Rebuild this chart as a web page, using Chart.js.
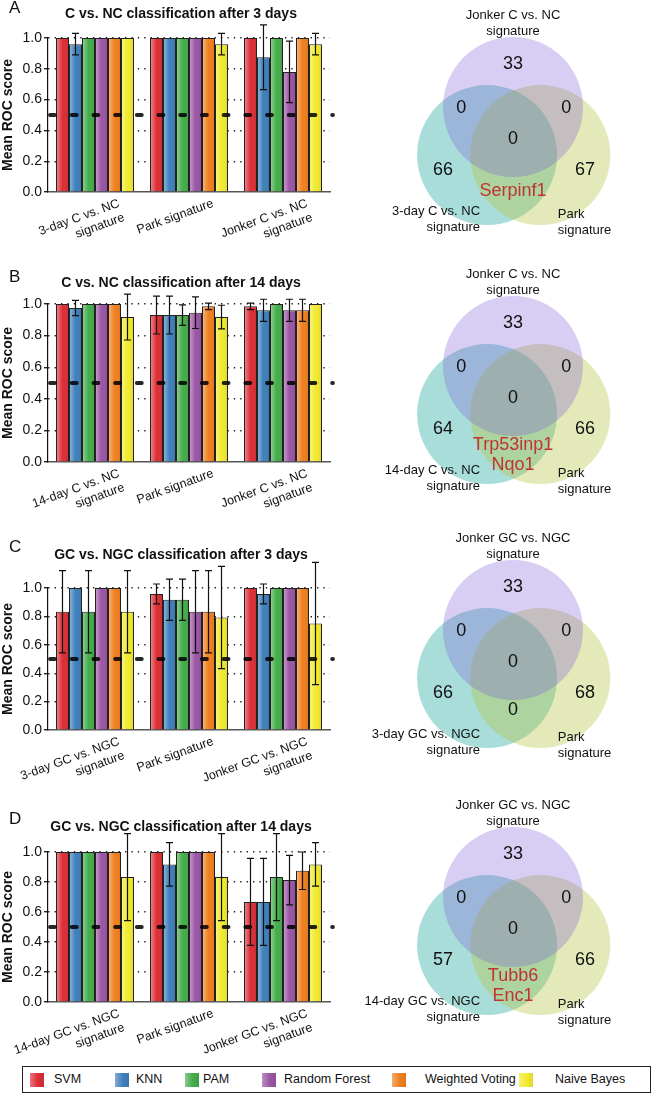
<!DOCTYPE html>
<html lang="en">
<head>
<meta charset="UTF-8">
<title>Classifier ROC scores and signature overlap</title>
<script src="https://cdn.jsdelivr.net/npm/chart.js"></script>
<style>
    body {
        margin: 0;
        background: #fff;
        font-family: "Liberation Sans", Arial, sans-serif;
    }
    .page {
        position: relative;
        width: 665px;
        height: 1097px;
        overflow: hidden;
    }
    .page canvas {
        position: absolute;
    }
    .legend {
        position: absolute;
        left: 22px;
        top: 1066px;
        width: 629px;
        height: 27px;
        border: 1px solid #222;
        box-sizing: border-box;
    }
    .legend .sw {
        position: absolute;
        top: 6px;
        width: 14px;
        height: 14px;
        background-image: linear-gradient(90deg, rgba(255,255,255,0.35), rgba(255,255,255,0) 55%, rgba(0,0,0,0.08));
    }
    .legend .tx {
        position: absolute;
        top: 5px;
        font-size: 12.5px;
        color: #111;
    }
</style>
</head>
<body>
<div class="page">
    <canvas id="barA" width="340" height="247" style="left:0;top:0"></canvas>
    <canvas id="barB" width="340" height="265" style="left:0;top:250px"></canvas>
    <canvas id="barC" width="340" height="268" style="left:0;top:515px"></canvas>
    <canvas id="barD" width="340" height="272" style="left:0;top:785px"></canvas>
    <canvas id="vennA" width="325" height="255" style="left:340px;top:0"></canvas>
    <canvas id="vennB" width="325" height="255" style="left:340px;top:259px"></canvas>
    <canvas id="vennC" width="325" height="255" style="left:340px;top:523px"></canvas>
    <canvas id="vennD" width="325" height="255" style="left:340px;top:790px"></canvas>
    <div class="legend" id="legend"></div>
</div>

<script>
    // classifiers (one bar per classifier in every group)
    const classifiers = ['SVM', 'KNN', 'PAM', 'Random Forest', 'Weighted Voting', 'Naive Bayes'];
    const classifierColors = ['#dc2f36', '#3f80bb', '#45ad4b', '#9b55a5', '#f08020', '#f1ea2e'];

    // A: C vs. NC after 3 days -- rows = classifiers, columns = signatures
    const aLabels = [['3-day C vs. NC', 'signature'], 'Park signature', ['Jonker C vs. NC', 'signature']];
    const aMean = [
        [1.00, 1.00, 1.00],
        [0.96, 1.00, 0.875],
        [1.00, 1.00, 1.00],
        [1.00, 1.00, 0.78],
        [1.00, 1.00, 1.00],
        [1.00, 0.96, 0.96]
    ];
    const aErr = [
        [0, 0, 0],
        [0.07, 0, 0.21],
        [0, 0, 0],
        [0, 0, 0.20],
        [0, 0, 0],
        [0, 0.07, 0.07]
    ];

    // B: C vs. NC after 14 days
    const bLabels = [['14-day C vs. NC', 'signature'], 'Park signature', ['Jonker C vs. NC', 'signature']];
    const bMean = [
        [1.00, 0.93, 0.985],
        [0.975, 0.93, 0.96],
        [1.00, 0.93, 1.00],
        [1.00, 0.945, 0.96],
        [1.00, 0.985, 0.96],
        [0.917, 0.917, 1.00]
    ];
    const bErr = [
        [0, 0.12, 0.02],
        [0.048, 0.12, 0.07],
        [0, 0.065, 0],
        [0, 0.10, 0.07],
        [0, 0.02, 0.07],
        [0.145, 0.075, 0]
    ];

    // C: GC vs. NGC after 3 days
    const cLabels = [['3-day GC vs. NGC', 'signature'], 'Park signature', ['Jonker GC vs. NGC', 'signature']];
    const cMean = [
        [0.833, 0.958, 1.00],
        [1.00, 0.917, 0.958],
        [0.833, 0.917, 1.00],
        [1.00, 0.833, 1.00],
        [1.00, 0.833, 1.00],
        [0.833, 0.792, 0.75]
    ];
    const cErr = [
        [0.29, 0.07, 0],
        [0, 0.145, 0.07],
        [0.29, 0.145, 0],
        [0, 0.29, 0],
        [0, 0.29, 0],
        [0.29, 0.36, 0.43]
    ];

    // D: GC vs. NGC after 14 days
    const dLabels = [['14-day GC vs. NGC', 'signature'], 'Park signature', ['Jonker GC vs. NGC', 'signature']];
    const dMean = [
        [1.00, 1.00, 0.667],
        [1.00, 0.917, 0.667],
        [1.00, 1.00, 0.833],
        [1.00, 1.00, 0.813],
        [1.00, 1.00, 0.875],
        [0.833, 0.833, 0.917]
    ];
    const dErr = [
        [0, 0, 0.29],
        [0, 0.145, 0.29],
        [0, 0, 0.29],
        [0, 0, 0.165],
        [0, 0, 0.125],
        [0.29, 0.29, 0.145]
    ];

    // Venn counts: [Jonker only, Jonker+own, Jonker+Park, all three, own only, Park only]
    const vennACounts = [33, 0, 0, 0, 66, 67];
    const vennBCounts = [33, 0, 0, 0, 64, 66];
    const vennCCounts = [33, 0, 0, 0, 66, 68];
    const vennDCounts = [33, 0, 0, 0, 57, 66];
    // genes shared by own and Park signature only (none -> 0)
    const vennAShared = ['Serpinf1'];
    const vennBShared = ['Trp53inp1', 'Nqo1'];
    const vennCShared = [];
    const vennDShared = ['Tubb6', 'Enc1'];
    // set names: Jonker, own, Park
    const vennANames = [['Jonker C vs. NC', 'signature'], ['3-day C vs. NC', 'signature'], ['Park', 'signature']];
    const vennBNames = [['Jonker C vs. NC', 'signature'], ['14-day C vs. NC', 'signature'], ['Park', 'signature']];
    const vennCNames = [['Jonker GC vs. NGC', 'signature'], ['3-day GC vs. NGC', 'signature'], ['Park', 'signature']];
    const vennDNames = [['Jonker GC vs. NGC', 'signature'], ['14-day GC vs. NGC', 'signature'], ['Park', 'signature']];

    const FONT = '"Liberation Sans", Arial, sans-serif';
    Chart.defaults.font.family = FONT;

    // bars: shading, 0.5 chance line, error bars, panel letter + title
    const barExtras = {
        id: 'barExtras',
        afterDatasetsDraw(chart, args, opts) {
            const { ctx, chartArea, scales: { y } } = chart;
            chart.data.datasets.forEach((ds, i) => {
                chart.getDatasetMeta(i).data.forEach(bar => {
                    const l = bar.x - bar.width / 2 + 1;
                    const w = bar.width - 2;
                    const g = ctx.createLinearGradient(l, 0, l + w, 0);
                    g.addColorStop(0, 'rgba(255,255,255,0.38)');
                    g.addColorStop(0.5, 'rgba(255,255,255,0)');
                    g.addColorStop(1, 'rgba(0,0,0,0.07)');
                    ctx.fillStyle = g;
                    ctx.fillRect(l, bar.y + 1, w, bar.base - bar.y - 1);
                });
            });

            const y5 = y.getPixelForValue(0.5);
            ctx.save();
            ctx.strokeStyle = 'rgba(0,0,0,0.85)';
            ctx.lineWidth = 3.8;
            ctx.lineCap = 'round';
            ctx.setLineDash([5, 16.7]);
            ctx.beginPath();
            ctx.moveTo(chartArea.left + 2, y5);
            ctx.lineTo(chartArea.right + 3, y5);
            ctx.stroke();
            ctx.restore();

            ctx.save();
            ctx.strokeStyle = '#111';
            ctx.lineWidth = 1.2;
            chart.data.datasets.forEach((ds, i) => {
                chart.getDatasetMeta(i).data.forEach((bar, j) => {
                    const e = ds.errors[j];
                    if (!e) return;
                    const top = y.getPixelForValue(ds.data[j] + e);
                    const bot = y.getPixelForValue(ds.data[j] - e);
                    ctx.beginPath();
                    ctx.moveTo(bar.x, top); ctx.lineTo(bar.x, bot);
                    ctx.moveTo(bar.x - 3.5, top); ctx.lineTo(bar.x + 3.5, top);
                    ctx.moveTo(bar.x - 3.5, bot); ctx.lineTo(bar.x + 3.5, bot);
                    ctx.stroke();
                });
            });
            ctx.restore();

            ctx.save();
            ctx.fillStyle = '#111';
            ctx.textBaseline = 'middle';
            ctx.textAlign = 'left';
            ctx.font = '17px ' + FONT;
            ctx.fillText(opts.letter, 9, opts.letterY);
            ctx.textAlign = 'center';
            ctx.font = 'bold 14px ' + FONT;
            ctx.fillText(opts.title, (chartArea.left + chartArea.right) / 2 - 8, opts.titleY);
            ctx.restore();
        }
    };

    function barChart(id, labels, means, errs, box) {
        return new Chart(document.getElementById(id), {
            type: 'bar',
            data: {
                labels: labels,
                datasets: classifiers.map((name, i) => ({
                    label: name,
                    data: means[i],
                    errors: errs[i],
                    backgroundColor: classifierColors[i],
                    borderColor: '#222',
                    borderWidth: 1,
                    categoryPercentage: 0.83,
                    barPercentage: 1.0
                }))
            },
            options: {
                responsive: false,
                animation: false,
                events: [],
                layout: { padding: { top: box.plotTop, right: 10, left: 0, bottom: 0 } },
                plugins: {
                    legend: { display: false },
                    tooltip: { enabled: false },
                    barExtras: box
                },
                scales: {
                    x: {
                        grid: { display: false, drawTicks: false },
                        border: { color: '#555', width: 1.5 },
                        ticks: {
                            color: '#111',
                            font: { size: 12.5 },
                            minRotation: 20,
                            maxRotation: 20,
                            autoSkip: false,
                            labelOffset: 24,
                            padding: 4
                        },
                        afterFit: s => {
                            s.height = box.height - box.plotBottom;
                            // rotated labels may run off the edge, as in the figure
                            s.paddingLeft = 0;
                            s.paddingRight = 0;
                        }
                    },
                    y: {
                        min: 0,
                        max: 1,
                        ticks: {
                            stepSize: 0.2,
                            color: '#111',
                            font: { size: 14 },
                            padding: 2,
                            callback: v => v.toFixed(1)
                        },
                        grid: {
                            color: c => (c.tick && c.tick.value === 0) ? 'rgba(0,0,0,0)' : '#222',
                            lineWidth: 1.4,
                            tickLength: 4,
                            tickColor: '#222'
                        },
                        border: { color: '#111', width: 1.2, dash: [1.4, 5] },
                        title: {
                            display: true,
                            text: 'Mean ROC score',
                            color: '#111',
                            font: { size: 14, weight: 'bold' },
                            padding: 0
                        },
                        afterFit: s => { s.width = 48; }
                    }
                }
            },
            plugins: [barExtras]
        });
    }

    barChart('barA', aLabels, aMean, aErr, { letter: 'A', title: 'C vs. NC classification after 3 days', letterY: 8, titleY: 14, height: 247, plotTop: 38, plotBottom: 192 });
    barChart('barB', bLabels, bMean, bErr, { letter: 'B', title: 'C vs. NC classification after 14 days', letterY: 27, titleY: 33, height: 265, plotTop: 54, plotBottom: 212 });
    barChart('barC', cLabels, cMean, cErr, { letter: 'C', title: 'GC vs. NGC classification after 3 days', letterY: 32, titleY: 40, height: 268, plotTop: 73, plotBottom: 215 });
    barChart('barD', dLabels, dMean, dErr, { letter: 'D', title: 'GC vs. NGC classification after 14 days', letterY: 34, titleY: 42, height: 272, plotTop: 67, plotBottom: 217 });

    // Venn layout in circle-radius units (centroid at 0,0)
    const vennCentres = { jonker: [0, 0.457], park: [0.39, -0.229], own: [-0.37, -0.229] };
    const vennColors = { jonker: 'rgba(120,85,215,0.29)', park: 'rgba(180,195,60,0.36)', own: 'rgba(40,170,160,0.40)' };
    const vennDrawOrder = ['jonker', 'park', 'own']; // first one ends up on top

    const vennText = {
        id: 'vennText',
        afterDatasetsDraw(chart, args, o) {
            const { ctx, scales: { x, y } } = chart;
            const put = (txt, ux, uy, align, size, color) => {
                ctx.font = size + 'px ' + FONT;
                ctx.fillStyle = color;
                ctx.textAlign = align;
                ctx.textBaseline = 'middle';
                ctx.fillText(String(txt), x.getPixelForValue(ux), y.getPixelForValue(uy));
            };
            ctx.save();
            const [jn, own, park] = o.names;
            put(jn[0], 0, 1.76, 'center', 13, '#111');
            put(jn[1], 0, 1.53, 'center', 13, '#111');
            put(own[0], -0.47, -1.03, 'right', 13, '#111');
            put(own[1], -0.47, -1.26, 'right', 13, '#111');
            put(park[0], 0.64, -1.08, 'left', 13, '#111');
            put(park[1], 0.64, -1.31, 'left', 13, '#111');

            const spots = [[0, 1.07], [-0.74, 0.44], [0.76, 0.44], [0, 0], [-1.0, -0.44], [1.03, -0.44]];
            o.counts.forEach((n, i) => put(n, spots[i][0], spots[i][1], 'center', 18, '#111'));
            if (o.shared.length === 0) {
                put(0, 0, -0.69, 'center', 18, '#111');
            } else {
                const y0 = o.shared.length === 1 ? -0.75 : -0.67;
                o.shared.forEach((g, i) => put(g, 0, y0 - i * 0.29, 'center', 18, '#bf3434'));
            }
            ctx.restore();
        }
    };

    // one unit of the x scale in pixels = circle radius
    const unitRadius = c => {
        const s = c.chart.scales.x;
        const r = s.getPixelForValue(1) - s.getPixelForValue(0);
        return isFinite(r) ? r : 0;
    };

    function vennChart(id, names, counts, shared) {
        return new Chart(document.getElementById(id), {
            type: 'scatter',
            data: {
                datasets: vennDrawOrder.map(k => ({
                    label: k,
                    data: [{ x: vennCentres[k][0], y: vennCentres[k][1] }],
                    pointBackgroundColor: vennColors[k],
                    pointBorderWidth: 0,
                    pointRadius: unitRadius,
                    clip: false
                }))
            },
            options: {
                responsive: false,
                animation: false,
                events: [],
                layout: { padding: 0 },
                plugins: {
                    legend: { display: false },
                    tooltip: { enabled: false },
                    vennText: { names: names, counts: counts, shared: shared }
                },
                scales: {
                    x: { display: false, min: -2.471, max: 2.171 },
                    y: { display: false, min: -1.657, max: 1.986 }
                }
            },
            plugins: [vennText]
        });
    }

    vennChart('vennA', vennANames, vennACounts, vennAShared);
    vennChart('vennB', vennBNames, vennBCounts, vennBShared);
    vennChart('vennC', vennCNames, vennCCounts, vennCShared);
    vennChart('vennD', vennDNames, vennDCounts, vennDShared);

    // legend row
    const legendSwatchX = [7, 92, 162, 239, 369, 496];
    const legendTextX = [31, 113, 180, 261, 402, 532];
    const legend = document.getElementById('legend');
    classifiers.forEach((name, i) => {
        const sw = document.createElement('div');
        sw.className = 'sw';
        sw.style.left = legendSwatchX[i] + 'px';
        sw.style.backgroundColor = classifierColors[i];
        legend.appendChild(sw);
        const tx = document.createElement('div');
        tx.className = 'tx';
        tx.style.left = legendTextX[i] + 'px';
        tx.textContent = name;
        legend.appendChild(tx);
    });
</script>
</body>
</html>
